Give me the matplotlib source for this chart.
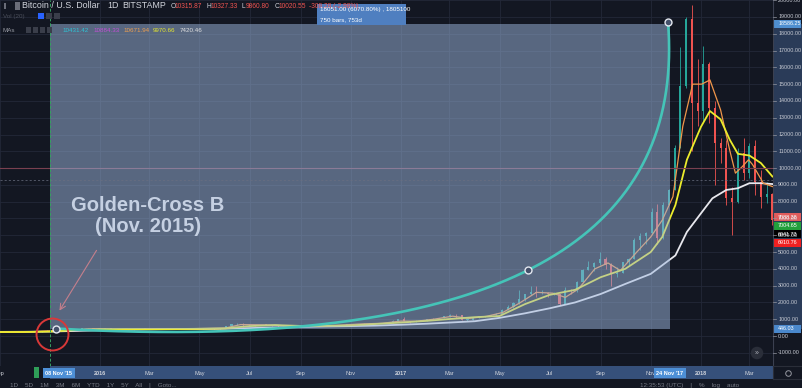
import numpy as np
import pandas as pd
import matplotlib
matplotlib.use("Agg")
import matplotlib.pyplot as plt
import matplotlib.dates as mdates
from matplotlib.patches import Rectangle

plt.rcParams['font.family'] = ['Liberation Sans', 'DejaVu Sans']

W, H = 803, 388
BG = '#131722'
GRID = '#232838'
UP = '#26a69a'
DOWN = '#ef5350'

# weekly candles (week starting Monday)
week_start = pd.date_range("2015-08-31", periods=135, freq="7D")

opens = [230, 240, 230, 231, 232, 246, 247, 268, 285, 325, 385, 330, 325, 365, 395, 460, 450, 422,
         432, 450, 385, 405, 378, 375, 405, 435, 430, 410, 412, 410, 415, 418, 420, 428, 455,
         448, 458, 455, 445, 470, 575, 690, 725, 650, 675, 650, 665, 660, 625, 590, 570, 580, 575,
         605, 610, 608, 602, 612, 615, 640, 655, 700, 705, 715, 735, 730, 770, 770, 785, 900,
         995, 905, 820, 920, 920, 1020, 1000, 1050, 1190, 1250, 1230, 970, 970, 1085, 1180, 1190, 1250,
         1340, 1560, 1720, 1980, 2180, 2480, 2650, 2550, 2580, 2490, 2510, 1900, 2750, 2730,
         3230, 3950, 4100, 4350, 4570, 4200, 3700, 3780, 4380, 4600, 5700, 5950, 6150,
         7400, 5850, 7800, 8700, 11200, 14900, 18900, 13900,
         13400, 16200, 13600, 11500, 11200, 8200, 8000, 10900, 9700, 11300, 9200, 8250, 8450]
highs = [242, 245, 236, 236, 248, 249, 270, 295, 330, 495, 390, 340, 375, 420, 470, 470, 460, 440,
         460, 455, 420, 410, 390, 410, 445, 440, 440, 420, 420, 420, 420, 425, 430, 460, 465,
         465, 460, 458, 475, 590, 710, 780, 770, 705, 680, 680, 680, 660, 630, 600, 590, 590, 610,
         630, 612, 610, 615, 620, 645, 660, 720, 740, 720, 750, 745, 775, 775, 790, 935, 1000,
         1150, 910, 935, 930, 1030, 1070, 1060, 1200, 1290, 1290, 1260, 1080, 1095, 1210, 1200, 1260, 1350,
         1620, 1840, 2000, 2760, 2490, 2970, 2950, 2760, 2600, 2650, 2520, 2900, 2800, 3250,
         3990, 4480, 4380, 4980, 4700, 4350, 4100, 4400, 4620, 5850, 6150, 6200, 7600,
         7890, 8000, 8750, 11400, 17200, 19000, 19700, 16500,
         17250, 16300, 14000, 11800, 11700, 8900, 11200, 11800, 11500, 11700, 9900, 9200, 8500]
lows = [226, 228, 226, 225, 230, 240, 245, 265, 280, 320, 305, 315, 315, 355, 390, 430, 415, 415,
        425, 360, 365, 375, 365, 370, 400, 405, 395, 405, 405, 405, 410, 415, 418, 425, 440,
        440, 448, 436, 440, 465, 570, 680, 550, 620, 610, 640, 650, 620, 480, 565, 565, 565, 570,
        600, 600, 595, 598, 605, 610, 630, 650, 680, 700, 700, 725, 725, 750, 765, 780, 895,
        880, 750, 815, 885, 915, 940, 985, 1045, 1150, 1090, 950, 900, 930, 1080, 1150, 1180, 1240,
        1330, 1550, 1680, 1900, 2100, 2470, 2300, 2500, 2340, 2450, 1840, 1880, 2520, 2600,
        3200, 3950, 3880, 4250, 4000, 2970, 3500, 3750, 4200, 4580, 5100, 5450, 6100,
        5500, 5800, 7800, 8700, 11200, 14800, 11000, 12500,
        12750, 12700, 9000, 10300, 7800, 6000, 7900, 9300, 9400, 8400, 7600, 7900, 6600]
closes = [240, 230, 231, 232, 246, 247, 268, 285, 325, 385, 330, 325, 365, 395, 460, 450, 422, 432,
          450, 385, 405, 378, 375, 405, 435, 430, 410, 412, 410, 415, 418, 420, 428, 455, 448,
          458, 455, 445, 470, 575, 690, 725, 650, 675, 650, 665, 660, 625, 590, 570, 580, 575, 605,
          610, 608, 602, 612, 615, 640, 655, 700, 705, 715, 735, 730, 770, 770, 785, 900, 995,
          905, 820, 920, 920, 1020, 1000, 1050, 1190, 1250, 1230, 970, 970, 1085, 1180, 1190, 1250, 1340,
          1560, 1720, 1980, 2180, 2480, 2650, 2550, 2580, 2490, 2510, 1900, 2750, 2730, 3230,
          3950, 4100, 4350, 4570, 4200, 3700, 3780, 4380, 4600, 5700, 5950, 6150, 7400,
          5850, 7800, 8700, 11200, 14900, 18900, 13900, 13400,
          16200, 13600, 11500, 11200, 8200, 8000, 10900, 9700, 11300, 9200, 8250, 8450, 6900]

# moving averages read at sample dates
ma_orange_dates = ["2015-09-01", "2015-10-01", "2015-11-01", "2015-11-15", "2015-12-01", "2015-12-15",
                   "2016-01-01", "2016-01-20", "2016-02-05", "2016-03-01", "2016-04-01", "2016-05-01",
                   "2016-06-01", "2016-06-20", "2016-07-10", "2016-08-01", "2016-08-20", "2016-09-15",
                   "2016-10-15", "2016-11-10", "2016-12-10", "2017-01-01", "2017-01-20", "2017-02-10",
                   "2017-03-05", "2017-03-25", "2017-04-15", "2017-05-05", "2017-05-25", "2017-06-15",
                   "2017-07-05", "2017-07-20", "2017-08-05", "2017-08-25", "2017-09-10", "2017-09-25",
                   "2017-10-15", "2017-11-01", "2017-11-15", "2017-11-28", "2017-12-10", "2017-12-22",
                   "2018-01-02", "2018-01-12", "2018-01-25", "2018-02-05", "2018-02-12", "2018-02-20",
                   "2018-02-28", "2018-03-05", "2018-03-18", "2018-03-29"]
ma_orange = [232, 238, 300, 360, 345, 420, 435, 405, 385, 425, 415, 445, 470, 680, 670, 650, 580, 605,
             630, 710, 760, 890, 880, 1000, 1180, 1050, 1170, 1400, 1950, 2600, 2550, 2300, 2800, 4000,
             4350, 3900, 5000, 5900, 6900, 8300, 12500, 15000, 15000, 15250, 13460, 11080, 9700, 10070,
             10500, 10200, 9100, 8900]

ma_yellow_dates = ["2015-09-01", "2015-10-01", "2015-11-01", "2015-12-01", "2016-01-01", "2016-02-01",
                   "2016-03-01", "2016-04-01", "2016-05-01", "2016-06-01", "2016-07-01", "2016-08-01",
                   "2016-09-01", "2016-10-01", "2016-11-01", "2016-12-01", "2017-01-01", "2017-02-01",
                   "2017-03-01", "2017-04-01", "2017-05-01", "2017-06-01", "2017-07-01", "2017-08-01",
                   "2017-09-01", "2017-10-01", "2017-11-01", "2017-11-15", "2017-12-01", "2017-12-15",
                   "2018-01-01", "2018-01-12", "2018-01-25", "2018-02-05", "2018-02-15", "2018-03-01",
                   "2018-03-15", "2018-03-29"]
ma_yellow = [235, 238, 265, 350, 405, 415, 405, 415, 430, 455, 590, 650, 600, 605, 630, 715, 800, 900,
             1010, 1120, 1190, 1900, 2450, 2750, 3500, 4000, 5000, 5900, 7800, 10500, 12450, 13400,
             12900, 11700, 10850, 10750, 10300, 9500]

ma_white_dates = ["2015-09-01", "2015-10-01", "2015-11-01", "2015-12-01", "2016-01-01", "2016-02-01",
                  "2016-03-01", "2016-04-01", "2016-05-01", "2016-06-01", "2016-07-01", "2016-08-01",
                  "2016-09-01", "2016-10-01", "2016-11-01", "2016-12-01", "2017-01-01", "2017-02-01",
                  "2017-03-01", "2017-04-01", "2017-05-01", "2017-06-01", "2017-07-01", "2017-08-01",
                  "2017-09-01", "2017-10-01", "2017-11-01", "2017-12-01", "2017-12-15", "2018-01-01",
                  "2018-01-15", "2018-02-01", "2018-02-15", "2018-03-01", "2018-03-15", "2018-03-29"]
ma_white = [245, 250, 265, 300, 340, 370, 395, 410, 420, 430, 470, 510, 540, 570, 590, 620, 670, 730,
            800, 880, 1080, 1350, 1650, 2000, 2500, 3100, 3700, 4800, 6200, 7300, 8200, 8700, 8800,
            9100, 9100, 9050]

# date & price range drawing
range_start, range_end = "2015-11-01", "2017-11-24"
range_low, range_high = 446.03, 18586.25
# curve drawing: start, on-curve middle handle, end
curve_dates = ["2015-11-08", "2017-06-05", "2017-11-22"]
curve_prices = [446, 3930, 18700]

ma_header_values = ["10431.42", "10884.33", "10671.94", "9970.66", "7420.46"]
ma_header_colors = ['#2ec4d6', '#c44fd6', '#f0a050', '#e6e62e', '#e0e0e0']

time_tick_dates = ["2015-09-01", "2016-01-01", "2016-03-01", "2016-05-01", "2016-07-01", "2016-09-01",
                   "2016-11-01", "2017-01-01", "2017-03-01", "2017-05-01", "2017-07-01", "2017-09-01",
                   "2017-11-01", "2018-01-01", "2018-03-01"]
time_tick_labels = ["Sep", "2016", "Mar", "May", "Jul", "Sep", "Nov", "2017", "Mar", "May", "Jul",
                    "Sep", "Nov", "2018", "Mar"]

price_tags = ["7088.38", "7004.65", "6941.73", "6910.76"]
price_tag_colors = ['#e05c5c', '#22a03c', '#000000', '#f02020']

# ---- scale helpers (screen layout) ----
PX_PER_DAY = 0.822
Y0_PX, PX_PER_1000 = 336, 16.79
x_left = mdates.date2num(pd.Timestamp("2015-09-01 08:00"))
x_right = x_left + 773 / PX_PER_DAY
y_bot = (Y0_PX - 366) / PX_PER_1000 * 1000
y_top = Y0_PX / PX_PER_1000 * 1000


def d2n(d):
    return mdates.date2num(pd.to_datetime(d))


def px_x(px):
    return x_left + px / PX_PER_DAY


def px_y(py):
    return (Y0_PX - py) / PX_PER_1000 * 1000


def fx(px):
    return px / W


def fy(py):
    return 1 - py / H


def fbox(px, py, w, h, color):
    fig.add_artist(Rectangle((fx(px), fy(py + h)), w / W, h / H, transform=fig.transFigure,
                             facecolor=color, edgecolor='none'))


fig = plt.figure(figsize=(W / 100, H / 100), dpi=100, facecolor=BG)

# ---- main chart ----
ax = fig.add_axes([0, fy(366), fx(773), 366 / H])
ax.set_facecolor(BG)
for s in ax.spines.values():
    s.set_visible(False)
ax.set_xticks([])
ax.set_yticks([])
ax.set_xlim(x_left, x_right)
ax.set_ylim(y_bot, y_top)

for v in range(-1000, 20001, 1000):
    ax.axhline(v, color=GRID, lw=0.6, zorder=0.5)
for d in time_tick_dates:
    ax.axvline(d2n(d), color=GRID, lw=0.6, zorder=0.5)

o = np.array(opens, float)
hi = np.array(highs, float)
lo = np.array(lows, float)
c = np.array(closes, float)
xs = d2n(week_start) + 3
cols = np.where(c >= o, UP, DOWN)
ax.vlines(xs, lo, hi, colors=cols, lw=0.6, zorder=2)
ax.bar(xs, np.maximum(np.abs(c - o), 25), bottom=np.minimum(o, c), width=2.6,
       color=cols, lw=0, zorder=2)

ax.plot(d2n(ma_white_dates), ma_white, color='#e8e8ee', lw=1.3, zorder=3)
ax.plot(d2n(ma_orange_dates), ma_orange, color='#f0964a', lw=0.9, zorder=3)
ax.plot(d2n(ma_yellow_dates), ma_yellow, color='#ecec2c', lw=1.3, zorder=3)

ax.axhline(10000, color='#7a4050', lw=0.8, zorder=3)

x0, x1 = d2n(range_start), d2n(range_end)
ax.add_patch(Rectangle((x0, range_low), x1 - x0, range_high - range_low,
                       facecolor='#9db7de', alpha=0.5, edgecolor='none', zorder=4))
ax.axvline(x0, color='#35a060', lw=0.7, ls=(0, (3, 2)), zorder=5)
ax.axhline(px_y(180), color='#6a6f80', lw=0.5, ls=(0, (3, 3)), zorder=5)

# curve drawing (quadratic bezier through the middle handle)
cx = d2n(curve_dates)
cy = np.array(curve_prices, float)
p1x = 2 * cx[1] - (cx[0] + cx[2]) / 2
p1y = 2 * cy[1] - (cy[0] + cy[2]) / 2
t = np.linspace(0, 1, 300)
bx = (1 - t) ** 2 * cx[0] + 2 * (1 - t) * t * p1x + t ** 2 * cx[2]
by = (1 - t) ** 2 * cy[0] + 2 * (1 - t) * t * p1y + t ** 2 * cy[2]
ax.plot(bx, by, color='#45c4b8', lw=1.9, zorder=6, solid_capstyle='round')
ax.plot(cx, cy, 'o', ms=5, mfc='#44506a', mec='#e4e8f0', mew=1.0, zorder=7)

ax.plot(px_x(52), px_y(334), 'o', ms=23, mfc='none', mec='#d83838', mew=1.4, zorder=7)
ax.annotate('', xy=(px_x(58), px_y(313)), xytext=(px_x(98), px_y(248)),
            arrowprops=dict(arrowstyle='->', color='#c47f8c', lw=0.8), zorder=7)

fig.text(fx(148), fy(216), "Golden-Cross B\n(Nov. 2015)", ha='center', va='center',
         fontsize=14.5, fontweight='bold', color='#c5d0e2', linespacing=1.1)

# ---- price axis ----
pax = fig.add_axes([fx(773), fy(366), 30 / W, 366 / H])
pax.set_facecolor(BG)
pax.set_xlim(0, 1)
pax.set_ylim(y_bot, y_top)
pax.set_xticks([])
pax.set_yticks([])
for s in pax.spines.values():
    s.set_visible(False)
pax.axhspan(range_low, range_high, color='#2a3b58', lw=0)
pax.axvline(0, color='#3b4050', lw=0.8)
for v in range(-1000, 20001, 1000):
    pax.plot([0, 0.1], [v, v], color='#9598a1', lw=0.5)
    pax.text(0.17, v, f"{v:.2f}", fontsize=3.9, color='#c8cbd4', va='center', ha='left', clip_on=False)

tag_h = 8 / PX_PER_1000 * 1000
for lab, col, yv in [("18586.25", '#4f8fd0', range_high), ("446.03", '#4a88cc', range_low)]:
    pax.add_patch(Rectangle((0.03, yv - tag_h / 2), 0.9, tag_h, facecolor=col, edgecolor='none'))
    pax.text(0.17, yv, lab, fontsize=3.9, color='white', va='center', ha='left')
for i, (lab, col) in enumerate(zip(price_tags, price_tag_colors)):
    yv = px_y(217 + 8.5 * i)
    pax.add_patch(Rectangle((0.03, yv - tag_h / 2), 0.9, tag_h, facecolor=col, edgecolor='none'))
    pax.text(0.17, yv, lab, fontsize=3.9, color='white', va='center', ha='left')

# ---- time axis ----
tax = fig.add_axes([0, fy(379), fx(773), 13 / H])
tax.set_facecolor(BG)
tax.set_xlim(x_left, x_right)
tax.set_ylim(0, 1)
tax.set_xticks([])
tax.set_yticks([])
for s in tax.spines.values():
    s.set_visible(False)
tax.axvspan(x0, x_right, color='#36507a', lw=0)
for d, lab in zip(time_tick_dates, time_tick_labels):
    tax.text(d2n(d), 0.45, lab, ha='center', va='center', fontsize=4,
             fontweight='bold' if lab.isdigit() else 'normal', color='#d1d4dc', clip_on=False)
tax.add_patch(Rectangle((px_x(34), 0.05), 5 / PX_PER_DAY, 0.9, facecolor='#2f9e58', edgecolor='none'))
tax.text(d2n("2015-11-08") + 4, 0.45, "08 Nov '15", ha='center', va='center', fontsize=4,
         fontweight='bold', color='white',
         bbox=dict(boxstyle='square,pad=0.45', fc='#4d8fd6', ec='none'))
tax.text(d2n("2017-11-24"), 0.45, "24 Nov '17", ha='center', va='center', fontsize=4,
         fontweight='bold', color='white',
         bbox=dict(boxstyle='square,pad=0.45', fc='#4d8fd6', ec='none'))

cax = fig.add_axes([fx(773), fy(379), 30 / W, 13 / H])
cax.set_facecolor(BG)
cax.set_xticks([])
cax.set_yticks([])
for s in cax.spines.values():
    s.set_color('#2a2e39')
cax.plot(0.5, 0.5, 'o', ms=4, mfc='none', mec='#9598a1', mew=0.7)
cax.set_xlim(0, 1)
cax.set_ylim(0, 1)

fig.text(fx(757), fy(353), "»", ha='center', va='center', fontsize=5, color='#b2b5be',
         bbox=dict(boxstyle='circle,pad=0.4', fc='#2a2e39', ec='none'))

# ---- header ----
fig.text(fx(22), fy(6), "Bitcoin / U.S. Dollar", fontsize=6.4, color='#d1d4dc', va='center')
fig.text(fx(107), fy(6), "1D", fontsize=6.4, color='#d1d4dc', va='center')
fig.text(fx(122), fy(6), "BITSTAMP", fontsize=6.4, color='#d1d4dc', va='center')
fbox(4, 3, 2, 6, '#6a6d78')
fbox(15, 2, 5, 8, '#6a6d78')
for xp, key, val in [(171, "O", "10315.87"), (207, "H", "10327.33"), (242, "L", "9860.80"), (275, "C", "10020.55")]:
    fig.text(fx(xp), fy(6), key, fontsize=4.8, color='#d1d4dc', va='center')
    fig.text(fx(xp + 4), fy(6), val, fontsize=4.8, color='#ef5350', va='center')
fig.text(fx(309), fy(6), "-308.28 (-2.98%)", fontsize=4.8, color='#ef5350', va='center')

fig.text(fx(3), fy(16.5), "Vol (20)", fontsize=4.5, color='#4a4e5a', va='center')
fbox(38, 13, 6, 6, '#2962ff')
fbox(46, 13, 6, 6, '#3a3e4a')
fbox(54, 13, 6, 6, '#3a3e4a')
fig.text(fx(3), fy(30), "MAs", fontsize=4.5, color='#9598a1', va='center')
for xp in [26, 33, 40, 47]:
    fbox(xp, 27, 5, 6, '#3a3e4a')
for xp, val, col in zip([62, 93, 123, 153, 180], ma_header_values, ma_header_colors):
    fig.text(fx(xp), fy(30), val, fontsize=4.5, color=col, va='center')

# measurement tooltip
fbox(317, 4, 89, 21, '#4f7fc0')
fig.text(fx(320), fy(10), "18051.00 (6070.80%) , 1805100", fontsize=4.5, color='white', va='center')
fig.text(fx(320), fy(19.5), "750 bars, 753d", fontsize=4.5, color='white', va='center')

# bottom toolbar (cut off)
fig.text(fx(10), fy(386), "1D    5D    1M    3M    6M    YTD    1Y    5Y    All    |    Goto...",
         fontsize=4.5, color='#787b86', va='center')
fig.text(fx(640), fy(386), "12:35:53 (UTC)    |    %    log    auto", fontsize=4.5,
         color='#787b86', va='center')

fig.savefig("out.png", dpi=100, facecolor=BG)
